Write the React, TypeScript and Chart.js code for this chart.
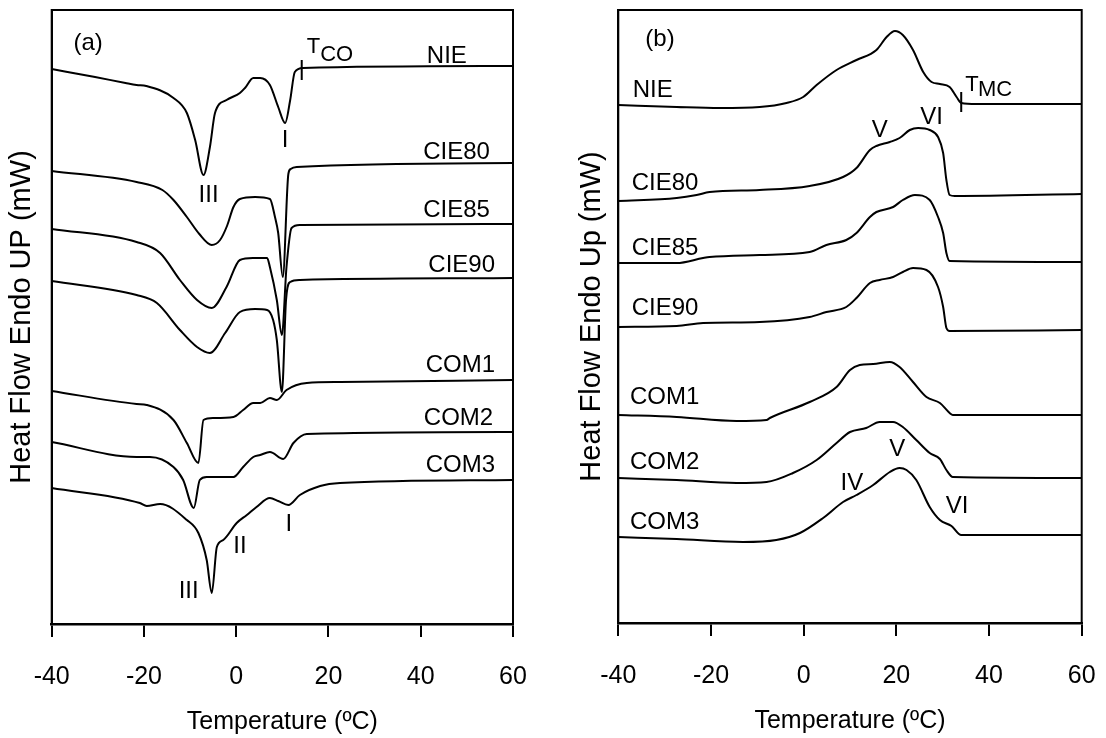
import React, { useEffect, useRef } from "react";
import { Chart, registerables } from "chart.js";
Chart.register(...registerables);

const FONT = "'Liberation Sans', Arial, sans-serif";

// x-axis ticks (Temperature, ºC)
const tempTicks = [-40, -20, 0, 20, 40, 60];

// ---------- Panel (a): cooling curves ----------
const aNIE_T = [-40, -30.6, -24.0, -21.6, -19.5, -13.6, -10.7, -8.9, -7.1, -5.7, -4.6, -2.1, 0.8, 1.9, 3.7, 5.2, 7.3, 9.1, 10.6, 11.7, 12.7, 14.5, 60];
const aNIE_Y = [5.55, 5.47, 5.41, 5.39, 5.38, 5.26, 5.11, 4.84, 4.49, 4.77, 5.11, 5.24, 5.31, 5.36, 5.46, 5.46, 5.39, 5.17, 5.01, 5.24, 5.52, 5.56, 5.58];

const aCIE80_T = [-40, -21.6, -16.0, -13.6, -10.7, -8.0, -5.3, -3.5, -2.0, -0.6, 0.8, 4.1, 7.3, 8.4, 9.1, 10.1, 11.3, 11.8, 13.1, 60];
const aCIE80_Y = [4.53, 4.42, 4.34, 4.24, 4.07, 3.90, 3.79, 3.84, 3.98, 4.17, 4.25, 4.27, 4.25, 4.07, 3.91, 3.47, 4.50, 4.55, 4.57, 4.61];

const aCIE85_T = [-40, -21.6, -16.5, -12.2, -8.5, -5.3, -2.1, 0.8, 3.6, 6.7, 7.3, 8.8, 9.9, 10.9, 12.0, 13.8, 60];
const aCIE85_Y = [3.95, 3.82, 3.71, 3.44, 3.24, 3.16, 3.37, 3.64, 3.66, 3.66, 3.57, 3.24, 2.89, 3.57, 3.96, 3.99, 4.00];

const aCIE90_T = [-40, -21.6, -17.2, -12.2, -8.5, -5.7, -2.4, 0.8, 4.1, 6.7, 8.0, 8.8, 9.9, 10.8, 11.7, 13.8, 60];
const aCIE90_Y = [3.43, 3.29, 3.21, 2.94, 2.77, 2.71, 2.91, 3.12, 3.15, 3.14, 3.04, 2.84, 2.32, 3.24, 3.42, 3.44, 3.46];

const aCOM1_T = [-40, -21.6, -19.4, -13.6, -10.7, -8.2, -7.1, -5.0, -0.6, 1.5, 3.7, 5.2, 7.3, 8.8, 10.9, 15.3, 22.5, 60];
const aCOM1_Y = [2.33, 2.20, 2.19, 2.04, 1.81, 1.61, 2.04, 2.06, 2.07, 2.14, 2.21, 2.21, 2.26, 2.24, 2.34, 2.41, 2.42, 2.44];

const aCOM2_T = [-40, -21.6, -18.7, -13.6, -11.5, -9.2, -7.9, -6.4, -0.6, 1.5, 3.7, 5.2, 7.3, 10.2, 12.4, 15.3, 60];
const aCOM2_Y = [1.82, 1.67, 1.67, 1.57, 1.44, 1.16, 1.44, 1.47, 1.47, 1.57, 1.67, 1.69, 1.72, 1.65, 1.81, 1.90, 1.92];

const aCOM3_T = [-40, -20.9, -19.4, -16.5, -10.7, -8.2, -6.4, -5.3, -4.2, -2.8, 0.1, 2.3, 4.4, 7.3, 9.1, 11.3, 13.8, 18.2, 22.5, 60];
const aCOM3_Y = [1.36, 1.21, 1.18, 1.20, 1.04, 0.91, 0.64, 0.31, 0.77, 0.84, 1.01, 1.09, 1.17, 1.26, 1.23, 1.19, 1.29, 1.38, 1.41, 1.44];

// T_CO marker on NIE (a)
const aTco_T = [14.2, 14.2];
const aTco_Y = [5.44, 5.64];

// ---------- Panel (b): melting curves ----------
const bNIE_T = [-40, -27.4, -18.1, -9.5, -3.7, -0.1, 2.8, 7.1, 11.4, 15.7, 17.9, 19.7, 21.4, 23.6, 25.8, 27.6, 29.4, 31.5, 33.0, 34.0, 37.3, 60];
const bNIE_Y = [5.18, 5.16, 5.15, 5.16, 5.20, 5.26, 5.38, 5.53, 5.63, 5.73, 5.86, 5.92, 5.88, 5.73, 5.51, 5.41, 5.39, 5.36, 5.26, 5.20, 5.19, 5.19];

const bCIE80_T = [-40, -27.4, -23.1, -20.3, -9.5, 1.3, 8.5, 11.4, 14.3, 15.7, 18.6, 20.7, 22.9, 24.7, 27.2, 29.0, 30.1, 30.8, 31.5, 32.6, 60];
const bCIE80_Y = [4.22, 4.25, 4.28, 4.31, 4.33, 4.37, 4.46, 4.55, 4.73, 4.77, 4.81, 4.85, 4.93, 4.95, 4.93, 4.86, 4.70, 4.43, 4.28, 4.27, 4.29];

const bCIE85_T = [-40, -27.4, -21.7, -20.3, -9.5, 1.3, 4.9, 9.2, 11.4, 14.3, 15.7, 19.3, 21.4, 24.0, 27.2, 29.0, 30.1, 30.8, 31.5, 60];
const bCIE85_Y = [3.60, 3.60, 3.65, 3.66, 3.68, 3.71, 3.78, 3.83, 3.90, 4.06, 4.11, 4.16, 4.23, 4.28, 4.23, 4.06, 3.90, 3.70, 3.62, 3.61];

const bCIE90_T = [-40, -27.4, -21.7, -9.5, 1.3, 4.9, 9.2, 11.4, 14.3, 16.4, 19.3, 21.4, 23.6, 26.5, 29.0, 30.1, 30.8, 31.5, 60];
const bCIE90_Y = [2.96, 2.97, 3.00, 3.01, 3.06, 3.11, 3.16, 3.25, 3.40, 3.43, 3.46, 3.51, 3.55, 3.53, 3.36, 3.16, 2.95, 2.92, 2.93];

const bCOM1_T = [-40, -27.4, -14.5, -8.0, -7.3, 1.3, 7.1, 10.0, 12.1, 15.0, 18.6, 20.7, 23.6, 26.5, 29.4, 31.5, 32.2, 60];
const bCOM1_Y = [2.08, 2.06, 2.02, 2.03, 2.05, 2.21, 2.36, 2.53, 2.58, 2.59, 2.61, 2.56, 2.41, 2.26, 2.20, 2.10, 2.08, 2.08];

const bCOM2_T = [-40, -27.4, -14.5, -8.0, -2.3, 2.8, 7.1, 10.0, 13.5, 16.4, 19.3, 21.4, 24.3, 27.2, 29.4, 30.8, 32.2, 60];
const bCOM2_Y = [1.45, 1.43, 1.40, 1.41, 1.50, 1.63, 1.80, 1.91, 1.95, 2.01, 2.01, 1.96, 1.83, 1.70, 1.64, 1.53, 1.46, 1.45];

const bCOM3_T = [-40, -27.4, -13.1, -5.9, -0.8, 4.2, 8.5, 11.4, 15.0, 18.6, 20.7, 22.2, 24.3, 27.2, 29.4, 31.9, 34.0, 60];
const bCOM3_Y = [0.86, 0.84, 0.81, 0.83, 0.90, 1.05, 1.21, 1.28, 1.38, 1.51, 1.55, 1.53, 1.43, 1.16, 1.03, 0.97, 0.88, 0.88];

// T_MC marker on NIE (b)
const bTmc_T = [34.0, 34.0];
const bTmc_Y = [5.11, 5.31];

// ---------- Text annotations (data coordinates) ----------
type Ann = { text: string; x: number; y: number; align: CanvasTextAlign; size?: number };

const annA: Ann[] = [
  { text: "(a)", x: -32.1, y: 5.81, align: "center" },
  { text: "NIE", x: 50.0, y: 5.68, align: "right" },
  { text: "CIE80", x: 55.0, y: 4.72, align: "right" },
  { text: "CIE85", x: 55.0, y: 4.14, align: "right" },
  { text: "CIE90", x: 56.1, y: 3.59, align: "right" },
  { text: "COM1", x: 56.1, y: 2.59, align: "right" },
  { text: "COM2", x: 55.7, y: 2.06, align: "right" },
  { text: "COM3", x: 56.1, y: 1.59, align: "right" },
  { text: "III", x: -6.0, y: 4.29, align: "center" },
  { text: "I", x: 10.6, y: 4.84, align: "center" },
  { text: "T", x: 16.75, y: 5.77, align: "center", size: 22 },
  { text: "CO", x: 18.2, y: 5.69, align: "left", size: 22 },
  { text: "I", x: 11.4, y: 1.0, align: "center" },
  { text: "II", x: 0.8, y: 0.775, align: "center" },
  { text: "III", x: -10.3, y: 0.33, align: "center" },
];

const annB: Ann[] = [
  { text: "(b)", x: -31.0, y: 5.84, align: "center" },
  { text: "NIE", x: -36.9, y: 5.33, align: "left" },
  { text: "CIE80", x: -37.1, y: 4.4, align: "left" },
  { text: "CIE85", x: -37.1, y: 3.75, align: "left" },
  { text: "CIE90", x: -37.1, y: 3.15, align: "left" },
  { text: "COM1", x: -37.5, y: 2.26, align: "left" },
  { text: "COM2", x: -37.5, y: 1.61, align: "left" },
  { text: "COM3", x: -37.5, y: 1.01, align: "left" },
  { text: "V", x: 16.4, y: 4.925, align: "center" },
  { text: "VI", x: 27.6, y: 5.06, align: "center" },
  { text: "T", x: 36.3, y: 5.38, align: "center", size: 22 },
  { text: "MC", x: 37.6, y: 5.33, align: "left", size: 22 },
  { text: "V", x: 20.2, y: 1.74, align: "center" },
  { text: "IV", x: 10.4, y: 1.4, align: "center" },
  { text: "VI", x: 33.1, y: 1.17, align: "center" },
];

const seriesA: [number[], number[]][] = [
  [aNIE_T, aNIE_Y], [aCIE80_T, aCIE80_Y], [aCIE85_T, aCIE85_Y], [aCIE90_T, aCIE90_Y],
  [aCOM1_T, aCOM1_Y], [aCOM2_T, aCOM2_Y], [aCOM3_T, aCOM3_Y],
];
const seriesB: [number[], number[]][] = [
  [bNIE_T, bNIE_Y], [bCIE80_T, bCIE80_Y], [bCIE85_T, bCIE85_Y], [bCIE90_T, bCIE90_Y],
  [bCOM1_T, bCOM1_Y], [bCOM2_T, bCOM2_Y], [bCOM3_T, bCOM3_Y],
];

const toPts = (t: number[], y: number[]) => t.map((v, i) => ({ x: v, y: y[i] }));

const annotationPlugin = {
  id: "annotations",
  afterDatasetsDraw(chart: any, _args: any, opts: any) {
    const items: Ann[] = opts.items || [];
    const { ctx, scales } = chart;
    ctx.save();
    ctx.fillStyle = "#000";
    ctx.textBaseline = "middle";
    for (const it of items) {
      ctx.font = `${it.size || 24}px ${FONT}`;
      ctx.textAlign = it.align;
      ctx.fillText(it.text, scales.x.getPixelForValue(it.x), scales.y.getPixelForValue(it.y));
    }
    ctx.restore();
  },
};

const framePlugin = {
  id: "frame",
  afterDraw(chart: any) {
    const { ctx, chartArea: a } = chart;
    ctx.save();
    ctx.strokeStyle = "#000";
    ctx.lineWidth = 2;
    ctx.strokeRect(a.left, a.top, a.right - a.left, a.bottom - a.top);
    ctx.restore();
  },
};

function makeConfig(
  series: [number[], number[]][],
  marker: [number[], number[]],
  ann: Ann[],
  yTitle: string,
  yMax: number,
  pad: { left: number; right: number; top: number; bottom: number },
  yTitlePad: { top: number; bottom: number }
): any {
  const datasets: any[] = series.map(([t, y]) => ({
    data: toPts(t, y),
    borderColor: "#000",
    borderWidth: 2,
    pointRadius: 0,
    fill: false,
    cubicInterpolationMode: "monotone",
  }));
  datasets.push({
    data: toPts(marker[0], marker[1]),
    borderColor: "#000",
    borderWidth: 2,
    pointRadius: 0,
    fill: false,
    tension: 0,
  });
  return {
    type: "line",
    data: { datasets },
    plugins: [annotationPlugin, framePlugin],
    options: {
      animation: false,
      responsive: false,
      events: [],
      layout: { padding: pad },
      plugins: {
        legend: { display: false },
        tooltip: { enabled: false },
        annotations: { items: ann },
      },
      scales: {
        x: {
          type: "linear",
          min: tempTicks[0],
          max: tempTicks[tempTicks.length - 1],
          afterBuildTicks: (s: any) => {
            s.ticks = tempTicks.map((v) => ({ value: v }));
          },
          ticks: {
            font: { family: FONT, size: 25, lineHeight: "80px" },
            color: "#000",
            padding: 0,
            maxRotation: 0,
            callback: (v: any) => String(v),
          },
          grid: { drawOnChartArea: false, drawTicks: true, tickLength: 13, color: "#000", lineWidth: 2 },
          border: { display: true, color: "#000", width: 2.5 },
          title: {
            display: true,
            text: "Temperature (ºC)",
            font: { family: FONT, size: 25 },
            color: "#000",
            padding: { top: -10, bottom: 0 },
          },
        },
        y: {
          type: "linear",
          min: 0,
          max: yMax,
          ticks: { display: false },
          grid: { display: false, drawTicks: false },
          border: { display: true, color: "#000", width: 2 },
          title: {
            display: true,
            text: yTitle,
            font: { family: FONT, size: 29 },
            color: "#000",
            padding: yTitlePad,
          },
        },
      },
    },
  };
}

export default function App() {
  const refA = useRef<HTMLCanvasElement>(null);
  const refB = useRef<HTMLCanvasElement>(null);

  useEffect(() => {
    Chart.defaults.color = "#000";
    const chartA = new Chart(
      refA.current as HTMLCanvasElement,
      makeConfig(
        seriesA,
        [aTco_T, aTco_Y],
        annA,
        "Heat Flow Endo UP (mW)",
        6.14,
        { left: 0, right: 40, top: 10, bottom: 1 },
        { top: 4.6, bottom: 12.3 }
      )
    );
    const chartB = new Chart(
      refB.current as HTMLCanvasElement,
      makeConfig(
        seriesB,
        [bTmc_T, bTmc_Y],
        annB,
        "Heat Flow Endo Up (mW)",
        6.13,
        { left: 0, right: 24.3, top: 10, bottom: 2 },
        { top: 21.6, bottom: 8.9 }
      )
    );
    return () => {
      chartA.destroy();
      chartB.destroy();
    };
  }, []);

  return (
    <div style={{ position: "fixed", left: 0, top: 0, width: 1106, height: 738, background: "#fff", overflow: "hidden" }}>
      <canvas ref={refA} width={553} height={738} style={{ position: "absolute", left: 0, top: 0 }} />
      <canvas ref={refB} width={553} height={738} style={{ position: "absolute", left: 553, top: 0 }} />
    </div>
  );
}
